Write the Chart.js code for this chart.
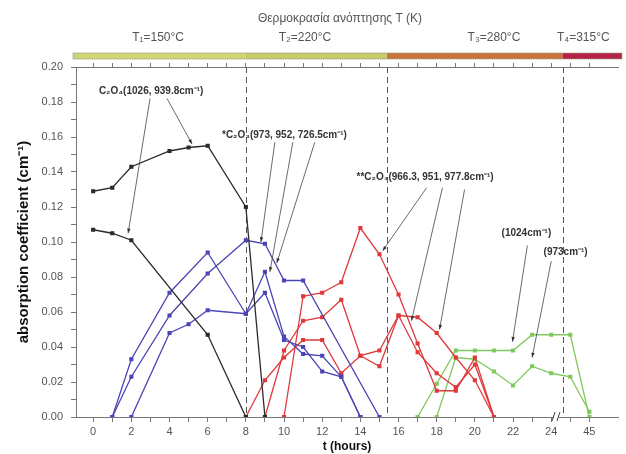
<!DOCTYPE html>
<html>
<head>
<meta charset="utf-8">
<script src="https://cdn.jsdelivr.net/npm/chart.js@4.4.0/dist/chart.umd.min.js"></script>
<style>
  html, body { margin: 0; padding: 0; background: #fff; }
</style>
</head>
<body>
<canvas id="myChart" width="626" height="454"></canvas>
<script>
// x tick labels (hours); 45 h is drawn just past the axis break
const tickHours = [0, 2, 4, 6, 8, 10, 12, 14, 16, 18, 20, 22, 24, 45];

// C2O4 bands
const c2o4aT = [0, 1, 2, 4, 5, 6, 8, 9];
const c2o4aV = [0.129, 0.131, 0.143, 0.152, 0.154, 0.155, 0.120, 0];
const c2o4bT = [0, 1, 2, 6, 8];
const c2o4bV = [0.107, 0.105, 0.101, 0.047, 0];

// *C2O3 bands (973, 952, 726.5)
const starAT = [1, 2, 4, 6, 8, 9, 10, 11, 12, 13, 14];
const starAV = [0, 0.033, 0.071, 0.094, 0.059, 0.083, 0.046, 0.036, 0.035, 0.023, 0];
const starBT = [1, 2, 4, 6, 8, 9, 10, 11, 15];
const starBV = [0, 0.023, 0.058, 0.082, 0.101, 0.099, 0.078, 0.078, 0];
const starCT = [2, 4, 5, 6, 8, 9, 10, 11, 12, 13, 14];
const starCV = [0, 0.048, 0.053, 0.061, 0.059, 0.071, 0.044, 0.040, 0.026, 0.023, 0];

// **C2O3 bands (966.3, 951, 977.8)
const dstarAT = [10, 11, 12, 13, 14, 15, 16, 17, 18, 19, 20, 21];
const dstarAV = [0, 0.069, 0.071, 0.077, 0.108, 0.093, 0.070, 0.042, 0.015, 0.015, 0.034, 0];
const dstarBT = [9, 10, 11, 12, 13, 14, 15, 16, 17, 18, 19, 20, 21];
const dstarBV = [0, 0.038, 0.055, 0.057, 0.067, 0.035, 0.038, 0.058, 0.057, 0.048, 0.034, 0.021, 0];
const dstarCT = [8, 9, 10, 11, 12, 13, 14, 15, 16, 17, 18, 19, 20, 21];
const dstarCV = [0, 0.021, 0.034, 0.044, 0.044, 0.025, 0.035, 0.029, 0.058, 0.037, 0.025, 0.017, 0.030, 0];

// 1024 and 973 cm-1 bands
const b1024T = [17, 18, 19, 20, 21, 22, 23, 24, 25, 45];
const b1024V = [0, 0.019, 0.038, 0.038, 0.038, 0.038, 0.047, 0.047, 0.047, 0];
const b973T = [18, 19, 20, 21, 22, 23, 24, 25, 45];
const b973V = [0, 0.034, 0.033, 0.026, 0.018, 0.029, 0.025, 0.023, 0.003];

// annealing temperature steps (boundaries in hours)
const tempTitle = 'Θερμοκρασία ανόπτησης T (K)';
const tempLabels = ['T₁=150°C', 'T₂=220°C', 'T₃=280°C', 'T₄=315°C'];
const tempLabelT = [3.4, 11.1, 21.0, 24.3];
const tempEdges = [8, 15.4, 24.6];
const tempColors = ['#cdd777', '#c6cc68', '#c9753f', '#b5234a'];

// band labels and their arrows [fromT, fromV, toT, toV]
const notes = [
  { text: 'C₂O₄(1026, 939.8cm⁻¹)', t: 0.3, v: 0.186,
    arrows: [[2.98, 0.182, 1.83, 0.105], [3.87, 0.182, 5.18, 0.156]] },
  { text: '*C₂O₃(973, 952, 726.5cm⁻¹)', t: 6.75, v: 0.161,
    arrows: [[9.52, 0.157, 8.79, 0.100], [10.46, 0.157, 9.26, 0.083], [11.61, 0.157, 9.62, 0.088]] },
  { text: '**C₂O₃(966.3, 951, 977.8cm⁻¹)', t: 13.8, v: 0.137,
    arrows: [[17.47, 0.131, 15.17, 0.095], [18.3, 0.131, 16.68, 0.055], [19.46, 0.130, 18.15, 0.050]] },
  { text: '(1024cm⁻¹)', t: 21.4, v: 0.105,
    arrows: [[22.75, 0.098, 21.97, 0.043]] },
  { text: '(973cm⁻¹)', t: 23.6, v: 0.094,
    arrows: [[24.0, 0.089, 23.0, 0.034]] }
];

const BLACK = '#2b2b2b', BLUE = '#4b45b5', RED = '#e0393b', GREEN = '#80c95e';

// 45 h sits one step after 25 (axis is broken)
function axisPos(t) {
  return t > 25 ? 26 : t;
}

function makeLine(label, ts, vs, color) {
  return {
    label: label,
    data: ts.map((t, i) => ({ x: axisPos(t), y: vs[i] })),
    borderColor: color,
    backgroundColor: color,
    borderWidth: 1.3,
    pointStyle: 'rect',
    pointRadius: 2,
    pointHoverRadius: 2,
    tension: 0
  };
}

function sameTicks(scale) {
  const ticks = [];
  for (let p = 0; p <= 26; p++) ticks.push({ value: p });
  scale.ticks = ticks;
}

function arrow(ctx, x1, y1, x2, y2) {
  ctx.beginPath();
  ctx.moveTo(x1, y1);
  ctx.lineTo(x2, y2);
  ctx.stroke();
  const a = Math.atan2(y2 - y1, x2 - x1);
  ctx.beginPath();
  ctx.moveTo(x2, y2);
  ctx.lineTo(x2 - 5 * Math.cos(a - 0.35), y2 - 5 * Math.sin(a - 0.35));
  ctx.lineTo(x2 - 5 * Math.cos(a + 0.35), y2 - 5 * Math.sin(a + 0.35));
  ctx.closePath();
  ctx.fill();
}

const extras = {
  id: 'extras',
  beforeDatasetsDraw(chart) {
    const { ctx, chartArea: area, scales: { x } } = chart;
    ctx.save();
    ctx.strokeStyle = '#555';
    ctx.lineWidth = 1;
    ctx.setLineDash([6, 4]);
    tempEdges.forEach(t => {
      const px = Math.round(x.getPixelForValue(t)) + 0.5;
      ctx.beginPath();
      ctx.moveTo(px, area.top);
      ctx.lineTo(px, area.bottom);
      ctx.stroke();
    });
    ctx.restore();
  },
  afterDraw(chart) {
    const { ctx, chartArea: area, scales: { x, y } } = chart;
    ctx.save();

    // temperature bar above the plot
    const edges = [area.left - 3].concat(tempEdges.map(t => x.getPixelForValue(t)), [area.right + 4]);
    for (let i = 0; i < 4; i++) {
      ctx.fillStyle = tempColors[i];
      ctx.fillRect(edges[i], 53, edges[i + 1] - edges[i], 6);
    }
    ctx.strokeStyle = '#9a9a70';
    ctx.lineWidth = 0.6;
    ctx.strokeRect(edges[0], 53, edges[4] - edges[0], 6);

    ctx.fillStyle = '#555';
    ctx.font = '12px "Liberation Sans", Arial, sans-serif';
    ctx.textAlign = 'center';
    ctx.textBaseline = 'middle';
    ctx.fillText(tempTitle, 340, 19);
    tempLabels.forEach((s, i) => {
      ctx.textAlign = i === 3 ? 'left' : 'center';
      ctx.fillText(s, x.getPixelForValue(tempLabelT[i]), 38);
    });

    // band labels with arrows
    ctx.fillStyle = '#333';
    ctx.strokeStyle = '#444';
    ctx.lineWidth = 0.8;
    ctx.font = 'bold 10px "Liberation Sans", Arial, sans-serif';
    ctx.textAlign = 'left';
    notes.forEach(n => {
      ctx.fillText(n.text, x.getPixelForValue(n.t), y.getPixelForValue(n.v));
      n.arrows.forEach(a => {
        arrow(ctx, x.getPixelForValue(a[0]), y.getPixelForValue(a[1]),
          x.getPixelForValue(a[2]), y.getPixelForValue(a[3]));
      });
    });

    // axis break mark between 24 and 45
    const bx = x.getPixelForValue(24.25), by = area.bottom;
    ctx.fillStyle = '#fff';
    ctx.fillRect(bx - 2, by - 5, 5, 10);
    ctx.strokeStyle = '#444';
    ctx.lineWidth = 1;
    ctx.beginPath();
    ctx.moveTo(bx - 4, by + 4); ctx.lineTo(bx - 1, by - 5);
    ctx.moveTo(bx + 1, by + 4); ctx.lineTo(bx + 4, by - 5);
    ctx.stroke();
    ctx.restore();
  }
};

const tickFont = { family: '"Liberation Sans", Arial, sans-serif', size: 11 };

new Chart(document.getElementById('myChart').getContext('2d'), {
  type: 'line',
  data: {
    datasets: [
      makeLine('C2O4 1026', c2o4aT, c2o4aV, BLACK),
      makeLine('C2O4 939.8', c2o4bT, c2o4bV, BLACK),
      makeLine('*C2O3 a', starAT, starAV, BLUE),
      makeLine('*C2O3 b', starBT, starBV, BLUE),
      makeLine('*C2O3 c', starCT, starCV, BLUE),
      makeLine('**C2O3 a', dstarAT, dstarAV, RED),
      makeLine('**C2O3 b', dstarBT, dstarBV, RED),
      makeLine('**C2O3 c', dstarCT, dstarCV, RED),
      makeLine('1024', b1024T, b1024V, GREEN),
      makeLine('973', b973T, b973V, GREEN)
    ]
  },
  options: {
    responsive: false,
    animation: false,
    layout: { padding: { left: 0, right: 8, top: 0, bottom: 0 } },
    plugins: { legend: { display: false }, tooltip: { enabled: false } },
    scales: {
      x: {
        type: 'linear',
        min: -0.9,
        max: 27.5,
        afterBuildTicks: sameTicks,
        afterFit: s => { s.height = 37; },
        border: { color: '#777' },
        grid: { drawOnChartArea: false, tickLength: 5, color: '#777' },
        ticks: {
          autoSkip: false,
          maxRotation: 0,
          padding: 3,
          color: '#555',
          font: tickFont,
          callback: v => {
            const h = tickHours.find(h => axisPos(h) === v);
            return h === undefined ? '' : String(h);
          }
        },
        title: {
          display: true,
          text: 't (hours)',
          color: '#111',
          font: { family: '"Liberation Sans", Arial, sans-serif', size: 12, weight: 'bold' },
          padding: { top: 0, bottom: 0 }
        }
      },
      x2: {
        type: 'linear',
        position: 'top',
        min: -0.9,
        max: 27.5,
        afterBuildTicks: sameTicks,
        afterFit: s => { s.height = 67; },
        border: { color: '#777' },
        grid: { drawOnChartArea: false, tickLength: 4, color: '#777' },
        ticks: { display: false }
      },
      y: {
        min: 0,
        max: 0.2,
        afterFit: s => { s.width = 76; },
        border: { color: '#777' },
        grid: { drawOnChartArea: false, tickLength: 5, color: '#777' },
        ticks: {
          stepSize: 0.01,
          autoSkip: false,
          padding: 8,
          color: '#555',
          font: tickFont,
          callback: v => (Math.round(v * 100) % 2 === 0 ? v.toFixed(2) : '')
        },
        title: {
          display: true,
          text: 'absorption coefficient (cm⁻¹)',
          color: '#111',
          font: { family: '"Liberation Sans", Arial, sans-serif', size: 15, weight: 'bold' },
          padding: { top: 15, bottom: 0 }
        }
      }
    }
  },
  plugins: [extras]
});
</script>
</body>
</html>
